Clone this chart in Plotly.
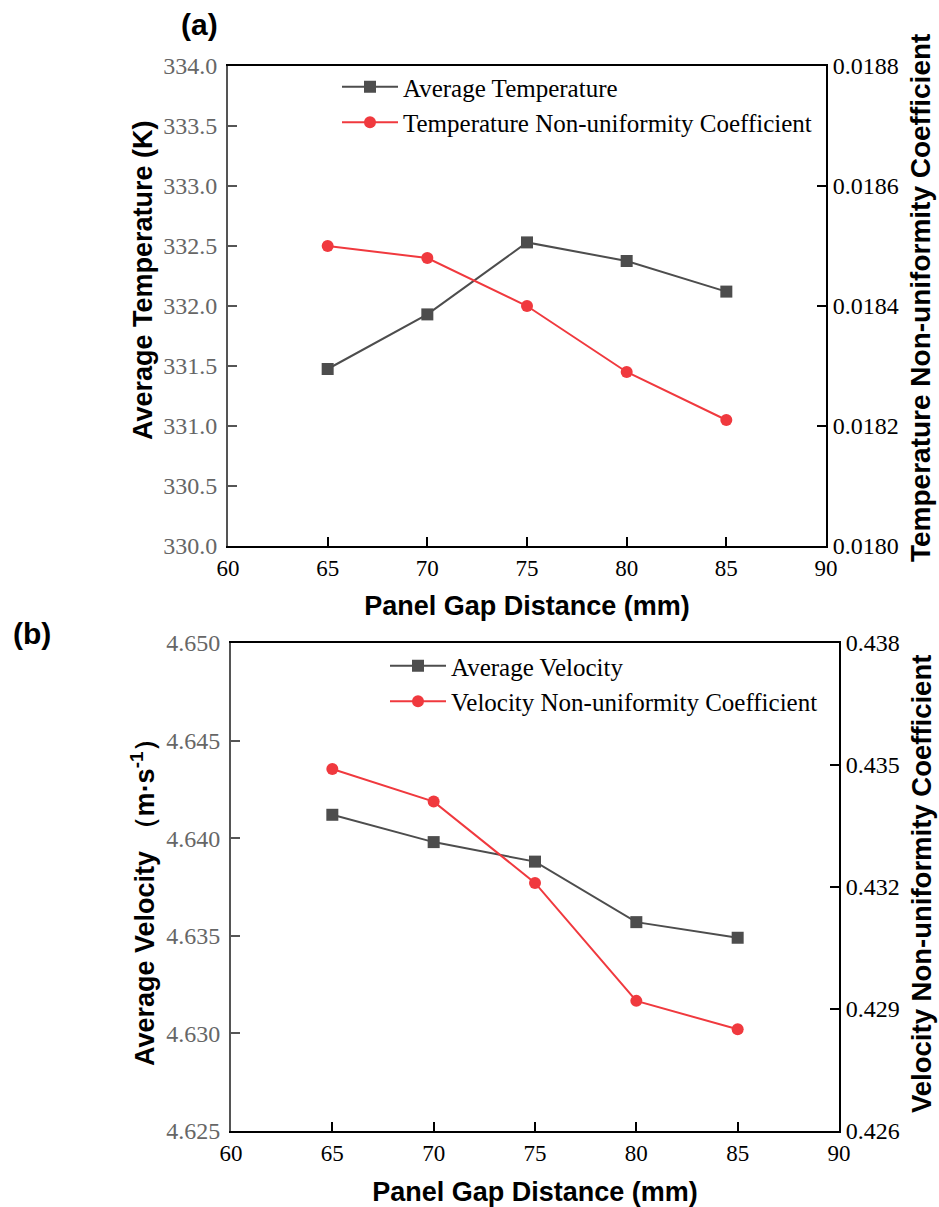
import plotly.graph_objects as go

W, H = 939, 1207

gap = [65, 70, 75, 80, 85]
avg_temp = [331.475, 331.93, 332.53, 332.375, 332.12]
temp_nonuni = [0.01850, 0.01848, 0.01840, 0.01829, 0.01821]
avg_vel = [4.6412, 4.6398, 4.6388, 4.6357, 4.6349]
vel_nonuni = [0.4349, 0.4341, 0.4321, 0.4292, 0.4285]

x_ticks = [60, 65, 70, 75, 80, 85, 90]

GRAY = "#4d4d4d"
RED = "#f0393e"
SERIF = "Liberation Serif, Times New Roman, serif"
SANS = "Liberation Sans, Arial, sans-serif"

def px_x(p):
    return p / W

def px_y(p):
    return 1 - p / H

fig = go.Figure()

fig.add_trace(go.Scatter(x=gap, y=avg_temp, name="Average Temperature", mode="lines+markers",
                         line=dict(color=GRAY, width=2), marker=dict(symbol="square", size=12, color=GRAY),
                         xaxis="x", yaxis="y", legend="legend"))
fig.add_trace(go.Scatter(x=gap, y=temp_nonuni, name="Temperature Non-uniformity Coefficient", mode="lines+markers",
                         line=dict(color=RED, width=2), marker=dict(symbol="circle", size=12, color=RED),
                         xaxis="x", yaxis="y2", legend="legend"))
fig.add_trace(go.Scatter(x=gap, y=avg_vel, name="Average Velocity", mode="lines+markers",
                         line=dict(color=GRAY, width=2), marker=dict(symbol="square", size=12, color=GRAY),
                         xaxis="x2", yaxis="y3", legend="legend2"))
fig.add_trace(go.Scatter(x=gap, y=vel_nonuni, name="Velocity Non-uniformity Coefficient", mode="lines+markers",
                         line=dict(color=RED, width=2), marker=dict(symbol="circle", size=12, color=RED),
                         xaxis="x2", yaxis="y4", legend="legend2"))

xtickfont = dict(family=SERIF, size=23, color="black")
ytickfont_black = dict(family=SERIF, size=24, color="black")
ytickfont_gray = dict(family=SERIF, size=24, color="#666666")
titlefont = dict(family=SANS, size=27, color="black", weight="bold")

def xaxis_cfg(domain, anchor, standoff):
    return dict(domain=domain, anchor=anchor, range=[60, 90], tickvals=x_ticks,
                ticks="inside", ticklen=9, tickwidth=2, tickcolor="black",
                showline=True, linecolor="black", linewidth=2, mirror=True,
                showgrid=False, zeroline=False, tickfont=xtickfont,
                title=dict(text="Panel Gap Distance (mm)", font=titlefont, standoff=standoff))

def yleft_cfg(domain, anchor, rng, dtick, fmt):
    return dict(domain=domain, anchor=anchor, range=rng, dtick=dtick, tick0=rng[0], tickformat=fmt,
                ticks="inside", ticklen=9, tickwidth=2, tickcolor="#555555",
                showline=True, linecolor="#555555", linewidth=2, ticklabelstandoff=4,
                showgrid=False, zeroline=False, tickfont=ytickfont_gray)

def yright_cfg(overlay, anchor, rng, dtick, fmt):
    return dict(overlaying=overlay, anchor=anchor, side="right", range=rng, dtick=dtick, tick0=rng[0],
                tickformat=fmt, ticks="inside", ticklen=9, tickwidth=2, tickcolor="black",
                showline=True, linecolor="black", linewidth=2,
                showgrid=False, zeroline=False, tickfont=ytickfont_black)

legend_font = dict(family=SERIF, size=25, color="black")

def ytitle(text, xp, yp, size):
    return dict(text=f"<b>{text}</b>", x=px_x(xp), y=px_y(yp), xref="paper", yref="paper",
                xanchor="center", yanchor="middle", textangle=-90, showarrow=False,
                font=dict(family=SANS, size=size, color="black"))

fig.update_layout(
    width=W, height=H, margin=dict(l=0, r=0, t=0, b=0, autoexpand=False),
    paper_bgcolor="white", plot_bgcolor="white",
    xaxis=xaxis_cfg([px_x(228), px_x(826)], "y", 17),
    yaxis=yleft_cfg([px_y(546), px_y(66)], "x", [330, 334], 0.5, ".1f"),
    yaxis2=yright_cfg("y", "x", [0.0180, 0.0188], 0.0002, ".4f"),
    xaxis2=xaxis_cfg([px_x(231), px_x(839)], "y3", 23),
    yaxis3=yleft_cfg([px_y(1131), px_y(643)], "x2", [4.625, 4.650], 0.005, ".3f"),
    yaxis4=yright_cfg("y3", "x2", [0.426, 0.438], 0.003, ".3f"),
    legend=dict(x=px_x(337), y=px_y(64), xanchor="left", yanchor="top", bgcolor="rgba(0,0,0,0)",
                font=legend_font, itemwidth=56, tracegroupgap=0),
    legend2=dict(x=px_x(385), y=px_y(643), xanchor="left", yanchor="top", bgcolor="rgba(0,0,0,0)",
                 font=legend_font, itemwidth=56, tracegroupgap=0),
    annotations=[
        dict(text="<b>(a)</b>", x=px_x(199), y=px_y(24), xref="paper", yref="paper", showarrow=False,
             xanchor="center", yanchor="middle", font=dict(family=SANS, size=30, color="black")),
        dict(text="<b>(b)</b>", x=px_x(32), y=px_y(633), xref="paper", yref="paper", showarrow=False,
             xanchor="center", yanchor="middle", font=dict(family=SANS, size=30, color="black")),
        ytitle("Average Temperature (K)", 143, 280, 27),
        ytitle("Temperature Non-uniformity Coefficient", 921, 298, 28),
        ytitle("Average Velocity （m·s<sup>-1</sup>）", 143, 896, 27),
        ytitle("Velocity Non-uniformity Coefficient", 921, 884, 27.5),
    ],
)

fig.write_html("out.html",
               post_script="document.body.style.margin='0';document.body.style.padding='0';")
